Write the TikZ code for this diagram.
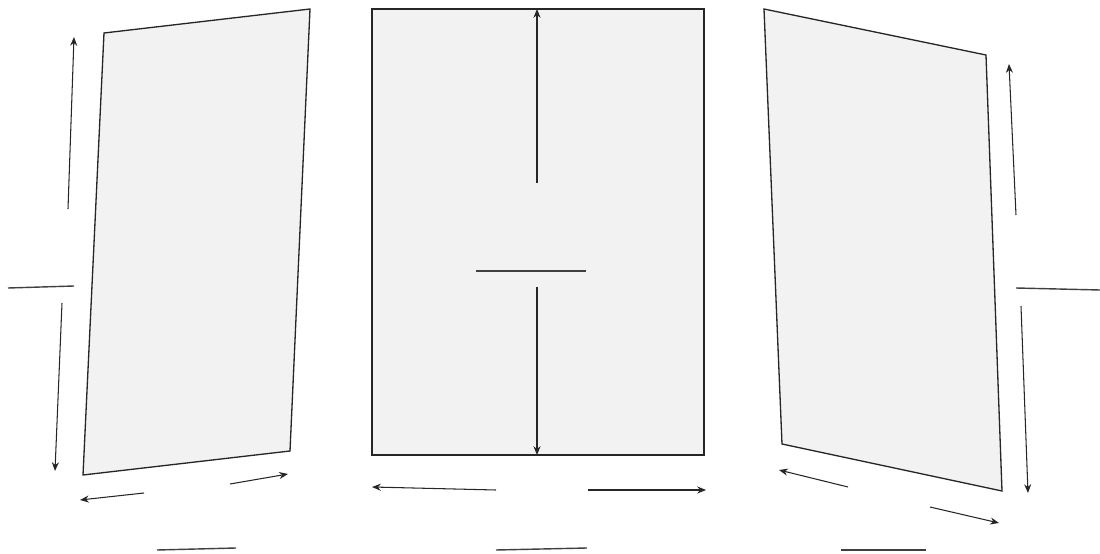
\documentclass[tikz,border=0pt]{standalone}
\usepackage{xcolor}
\usepackage{tikz}
\usetikzlibrary{arrows.meta,calc}

\begin{document}
\begin{tikzpicture}[
        x=0.02cm, y=-0.02cm,
        panel/.style={draw=black!85, line width=0.75pt, fill=black!5, line join=miter},
        dimarrow/.style={-{Stealth[length=5pt,width=4pt]}, draw=black!85, line width=0.6pt},
        tick/.style={draw=black!75, line width=0.8pt},
      ]
      \useasboundingbox (0,0) rectangle (1100,554);
      % left panel
      \coordinate (ltl) at (104,33);
      \coordinate (ltr) at (310,9);
      \coordinate (lbr) at (290,451);
      \coordinate (lbl) at (83,475);
      \draw [panel] (ltl) -- (ltr) -- (lbr) -- (lbl) -- cycle;
      % middle panel
      \coordinate (mtl) at (372,9);
      \coordinate (mbr) at (704,455);
      \draw [panel] (mtl) rectangle (mbr);
      % right panel
      \coordinate (rtl) at (764,9);
      \coordinate (rtr) at (986,55);
      \coordinate (rbr) at (1002,491);
      \coordinate (rbl) at (782,444);
      \draw [panel] (rtl) -- (rtr) -- (rbr) -- (rbl) -- cycle;
      % left dimensions
      \coordinate (lh1) at (68,209);
      \coordinate (lh2) at (74,37);
      \coordinate (lh3) at (62,303);
      \coordinate (lh4) at (55,471);
      \draw [dimarrow] (lh1) -- (lh2);
      \draw [dimarrow] (lh3) -- (lh4);
      \draw [tick] (8,288) -- (74,286);
      \coordinate (lw1) at (144,493);
      \coordinate (lw2) at (80,500);
      \coordinate (lw3) at (230,484);
      \coordinate (lw4) at (288,474);
      \draw [dimarrow] (lw1) -- (lw2);
      \draw [dimarrow] (lw3) -- (lw4);
      \draw [tick] (157,550) -- (236,548);
      % middle dimensions
      \coordinate (mh1) at (537,183);
      \coordinate (mh2) at (537,9);
      \coordinate (mh3) at (537,287);
      \coordinate (mh4) at (537,455);
      \draw [dimarrow] (mh1) -- (mh2);
      \draw [dimarrow] (mh3) -- (mh4);
      \draw [tick] (476,271) -- (586,271);
      \coordinate (mw1) at (496,490);
      \coordinate (mw2) at (372,487);
      \coordinate (mw3) at (588,490);
      \coordinate (mw4) at (706,490);
      \draw [dimarrow] (mw1) -- (mw2);
      \draw [dimarrow] (mw3) -- (mw4);
      \draw [tick] (496,550) -- (587,548);
      % right dimensions
      \coordinate (rh1) at (1016,215);
      \coordinate (rh2) at (1009,64);
      \coordinate (rh3) at (1021,306);
      \coordinate (rh4) at (1028,493);
      \draw [dimarrow] (rh1) -- (rh2);
      \draw [dimarrow] (rh3) -- (rh4);
      \draw [tick] (1016,288) -- (1100,290);
      \coordinate (rw1) at (848,487);
      \coordinate (rw2) at (779,470);
      \coordinate (rw3) at (930,507);
      \coordinate (rw4) at (999,523);
      \draw [dimarrow] (rw1) -- (rw2);
      \draw [dimarrow] (rw3) -- (rw4);
      \draw [tick] (841,550) -- (926,550);
    \end{tikzpicture}
\end{document}
